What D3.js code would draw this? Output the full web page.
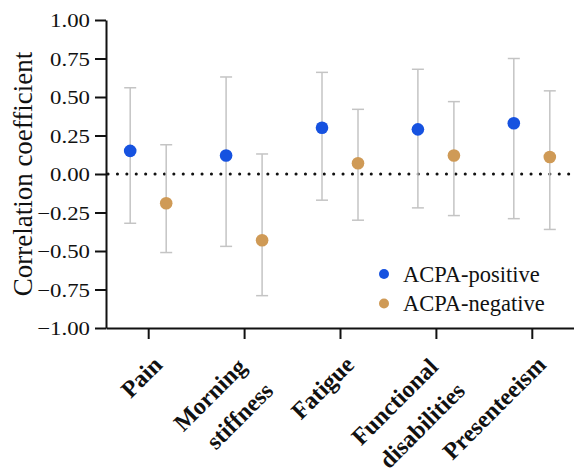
<!DOCTYPE html>
<html>
<head>
<meta charset="utf-8">
<script src="https://cdn.jsdelivr.net/npm/d3@7"></script>
</head>
<body style="margin:0">
<svg id="chart" width="574" height="472"></svg>
<script>
const categories = ["Pain", "Morning stiffness", "Fatigue", "Functional disabilities", "Presenteeism"];
const categoryLines = [["Pain"], ["Morning", "stiffness"], ["Fatigue"], ["Functional", "disabilities"], ["Presenteeism"]];
const seriesNames = ["ACPA-positive", "ACPA-negative"];
const positiveR = [0.15, 0.12, 0.30, 0.29, 0.33];
const positiveLow = [-0.32, -0.47, -0.17, -0.22, -0.29];
const positiveHigh = [0.56, 0.63, 0.66, 0.68, 0.75];
const negativeR = [-0.19, -0.43, 0.07, 0.12, 0.11];
const negativeLow = [-0.51, -0.79, -0.30, -0.27, -0.36];
const negativeHigh = [0.19, 0.13, 0.42, 0.47, 0.54];
const yTicks = [-1.00, -0.75, -0.50, -0.25, 0.00, 0.25, 0.50, 0.75, 1.00];
const yTitle = "Correlation coefficient";

const colors = ["#1652e0", "#cf9a56"];
const svg = d3.select("#chart");
const mLeft = 106, mRight = 574, mTop = 20, mBottom = 328;
const FAM = '"Liberation Serif", "Times New Roman", Tinos, FreeSerif, serif';

function serif(sel, size, bold) {
  sel.style("font-family", FAM).style("font-size", size + "px");
  if (bold) sel.style("font-weight", "bold");
  return sel;
}

const x = d3.scalePoint().domain(categories).range([mLeft, mRight]).padding(0.44);
const y = d3.scaleLinear().domain([-1, 1]).range([mBottom, mTop]);

const series = [
  { name: seriesNames[0], r: positiveR, lo: positiveLow, hi: positiveHigh, off: -18, color: colors[0] },
  { name: seriesNames[1], r: negativeR, lo: negativeLow, hi: negativeHigh, off: 18, color: colors[1] }
];

// zero line (dotted)
svg.append("line")
  .attr("x1", mLeft + 2).attr("x2", mRight - 2)
  .attr("y1", y(0)).attr("y2", y(0))
  .attr("stroke", "#111").attr("stroke-width", 3)
  .attr("stroke-linecap", "round")
  .attr("stroke-dasharray", "0.1 9.3");

// error bars and points
series.forEach(s => {
  const g = svg.append("g");
  categories.forEach((c, i) => {
    const cx = x(c) + s.off;
    g.append("line").attr("x1", cx).attr("x2", cx)
      .attr("y1", y(s.lo[i])).attr("y2", y(s.hi[i]))
      .attr("stroke", "#c4c4c4").attr("stroke-width", 1.5);
    [s.lo[i], s.hi[i]].forEach(v => {
      g.append("line").attr("x1", cx - 6).attr("x2", cx + 6)
        .attr("y1", y(v)).attr("y2", y(v))
        .attr("stroke", "#c4c4c4").attr("stroke-width", 1.5);
    });
    g.append("circle").attr("cx", cx).attr("cy", y(s.r[i])).attr("r", 6.3)
      .attr("fill", s.color);
  });
});

// y axis
const yAxis = svg.append("g").attr("transform", `translate(${mLeft},0)`)
  .call(d3.axisLeft(y).tickValues(yTicks).tickSize(11).tickSizeOuter(0).tickFormat(d3.format(".2f")));
yAxis.attr("font-family", null).attr("font-size", null);
yAxis.select(".domain").attr("stroke", "#111").attr("stroke-width", 2);
yAxis.selectAll(".tick line").attr("stroke", "#111").attr("stroke-width", 2);
serif(yAxis.selectAll(".tick text"), 19, false)
  .attr("x", null).attr("dy", null)
  .attr("transform", "translate(-16,6.5) scale(1.2,1)")
  .attr("text-anchor", "end")
  .attr("fill", "#111");

// x axis
const xAxis = svg.append("g").attr("transform", `translate(0,${mBottom})`)
  .call(d3.axisBottom(x).tickSize(11).tickSizeOuter(0).tickFormat(""));
xAxis.select(".domain").attr("stroke", "#111").attr("stroke-width", 2);
xAxis.selectAll(".tick line").attr("stroke", "#111").attr("stroke-width", 2);
xAxis.selectAll(".tick text").remove();

// x labels rotated
categories.forEach((c, i) => {
  const lines = categoryLines[i];
  const t = serif(svg.append("text"), 24, true)
    .attr("transform", `translate(${x(c)},${mBottom}) rotate(-45)`)
    .attr("text-anchor", "end")
    .attr("fill", "#111");
  if (lines.length === 1) {
    t.append("tspan").attr("x", -16).attr("y", 38).text(lines[0]);
  } else {
    t.append("tspan").attr("x", -26).attr("y", 31).text(lines[0]);
    t.append("tspan").attr("x", -24).attr("y", 67).text(lines[1]);
  }
});

// y title
serif(svg.append("text"), 27, false)
  .attr("transform", `translate(32,${(mTop + mBottom) / 2}) rotate(-90)`)
  .attr("text-anchor", "middle")
  .attr("fill", "#111")
  .text(yTitle);

// legend
const legend = svg.append("g");
series.forEach((s, i) => {
  legend.append("circle").attr("cx", 384).attr("cy", 274 + i * 29.5).attr("r", 5).attr("fill", s.color);
  serif(legend.append("text"), 22.5, false)
    .attr("x", 403).attr("y", 281.5 + i * 29.5)
    .attr("fill", "#111")
    .text(s.name);
});
</script>
</body>
</html>
